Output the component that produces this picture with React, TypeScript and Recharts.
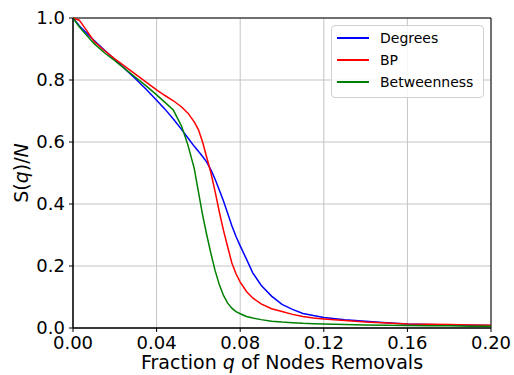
import React from 'react';
import {
  LineChart,
  Line,
  XAxis,
  YAxis,
  CartesianGrid,
  Legend,
  ReferenceArea
} from 'recharts';

// fraction q of removed nodes (shared grid for all three curves)
const qValues = [
  0, 0.003, 0.006, 0.01, 0.015, 0.02, 0.025, 0.03, 0.035, 0.04,
  0.044, 0.048, 0.052, 0.055, 0.058, 0.06, 0.062, 0.064, 0.066, 0.068,
  0.07, 0.072, 0.074, 0.076, 0.078, 0.08, 0.083, 0.086, 0.09, 0.095,
  0.1, 0.105, 0.11, 0.115, 0.12, 0.13, 0.14, 0.15, 0.16, 0.17,
  0.18, 0.19, 0.2
];

const degrees = [
  1.0, 0.975, 0.955, 0.928, 0.897, 0.866, 0.835, 0.803, 0.77, 0.735,
  0.706, 0.674, 0.64, 0.613, 0.586, 0.57, 0.553, 0.535, 0.51, 0.48,
  0.445, 0.41, 0.37, 0.33, 0.295, 0.265, 0.222, 0.178, 0.138, 0.103,
  0.076, 0.06, 0.047, 0.04, 0.034, 0.027, 0.022, 0.017, 0.013, 0.011,
  0.01, 0.009, 0.008
];

const bp = [
  1.0, 0.993, 0.965, 0.925, 0.895, 0.868, 0.843, 0.818, 0.793, 0.768,
  0.75, 0.733, 0.713, 0.693, 0.665, 0.64, 0.6, 0.55, 0.5, 0.44,
  0.375, 0.315, 0.262, 0.21, 0.175, 0.148, 0.118, 0.097, 0.078, 0.062,
  0.053, 0.044, 0.037, 0.032, 0.029, 0.024, 0.019, 0.016, 0.013, 0.012,
  0.011, 0.01, 0.009
];

const betweenness = [
  1.0, 0.972, 0.948, 0.918, 0.888, 0.862, 0.835, 0.808, 0.781, 0.752,
  0.728, 0.703, 0.65, 0.59, 0.515, 0.44, 0.365, 0.3, 0.24, 0.185,
  0.14, 0.105, 0.08, 0.064, 0.053, 0.046, 0.037, 0.032, 0.027, 0.022,
  0.019, 0.017, 0.015, 0.014, 0.013, 0.011, 0.01, 0.009, 0.008, 0.007,
  0.007, 0.006, 0.006
];

const seriesNames = ['Degrees', 'BP', 'Betweenness'];
const xTicks = [0, 0.04, 0.08, 0.12, 0.16, 0.2];
const yTicks = [0, 0.2, 0.4, 0.6, 0.8, 1.0];

const data = qValues.map((q, i) => ({
  q,
  Degrees: degrees[i],
  BP: bp[i],
  Betweenness: betweenness[i]
}));

const FONT = '"DejaVu Sans", sans-serif';

const renderLegend = (props: any) => {
  const { payload = [] } = props;
  // keep plotting order, recharts sorts by name otherwise
  const items = [...payload].sort(
    (a: any, b: any) => seriesNames.indexOf(a.value) - seriesNames.indexOf(b.value)
  );
  return (
    <div
      style={{
        border: '1px solid #d0d0d0',
        borderRadius: 4,
        background: 'rgba(255,255,255,0.85)',
        padding: '1px 0 4px 5px',
        fontFamily: FONT,
        fontSize: 14,
        color: '#000'
      }}
    >
      {items.map((entry: any) => (
        <div key={entry.value} style={{ display: 'flex', alignItems: 'center', height: 22 }}>
          <svg width={32} height={4} style={{ marginRight: 11 }}>
            <line x1={0} y1={2} x2={32} y2={2} stroke={entry.color} strokeWidth={2} />
          </svg>
          <span>{entry.value}</span>
        </div>
      ))}
    </div>
  );
};

const XLabel = (props: any) => {
  const { viewBox } = props;
  const cx = viewBox.x + viewBox.width / 2;
  return (
    <text x={cx} y={369} textAnchor="middle" fontFamily={FONT} fontSize={19} fill="#000">
      Fraction <tspan fontStyle="italic">q</tspan> of Nodes Removals
    </text>
  );
};

const YLabel = (props: any) => {
  const { viewBox } = props;
  const cy = viewBox.y + viewBox.height / 2;
  return (
    <text
      x={28}
      y={cy}
      transform={`rotate(-90, 28, ${cy})`}
      textAnchor="middle"
      fontFamily={FONT}
      fontSize={19}
      fill="#000"
    >
      S(<tspan fontStyle="italic">q</tspan>)/<tspan fontStyle="italic">N</tspan>
    </text>
  );
};

const App: React.FC = () => {
  return (
    <div style={{ position: 'absolute', left: 0, top: 0, width: 514, height: 375, background: '#fff' }}>
      <LineChart width={514} height={375} data={data} margin={{ top: 18, right: 23, left: 0, bottom: 0 }}>
        <CartesianGrid stroke="#c4c4c4" strokeWidth={1} />
        <XAxis
          dataKey="q"
          type="number"
          domain={[0, 0.2]}
          ticks={xTicks}
          tickFormatter={(v: number) => v.toFixed(2)}
          height={47}
          tickSize={4}
          tickMargin={4}
          axisLine={{ stroke: '#000' }}
          tickLine={{ stroke: '#000' }}
          tick={{ fontSize: 18, fill: '#000', fontFamily: FONT }}
          label={<XLabel />}
        />
        <YAxis
          type="number"
          domain={[0, 1]}
          ticks={yTicks}
          tickFormatter={(v: number) => v.toFixed(1)}
          width={73}
          tickSize={4}
          tickMargin={4}
          axisLine={{ stroke: '#000' }}
          tickLine={{ stroke: '#000' }}
          tick={{ fontSize: 18, fill: '#000', fontFamily: FONT }}
          label={<YLabel />}
        />
        <Legend
          layout="vertical"
          align="center"
          verticalAlign="middle"
          content={renderLegend}
          wrapperStyle={{ left: 331, top: 25, width: 153 }}
        />
        <Line type="linear" dataKey="Degrees" stroke="#0000ff" strokeWidth={1.5} dot={false} isAnimationActive={false} />
        <Line type="linear" dataKey="BP" stroke="#ff0000" strokeWidth={1.5} dot={false} isAnimationActive={false} />
        <Line type="linear" dataKey="Betweenness" stroke="#008000" strokeWidth={1.5} dot={false} isAnimationActive={false} />
        <ReferenceArea x1={0} x2={0.2} y1={0} y2={1} fill="none" stroke="#000" strokeWidth={1} ifOverflow="visible" />
      </LineChart>
    </div>
  );
};

export default App;
